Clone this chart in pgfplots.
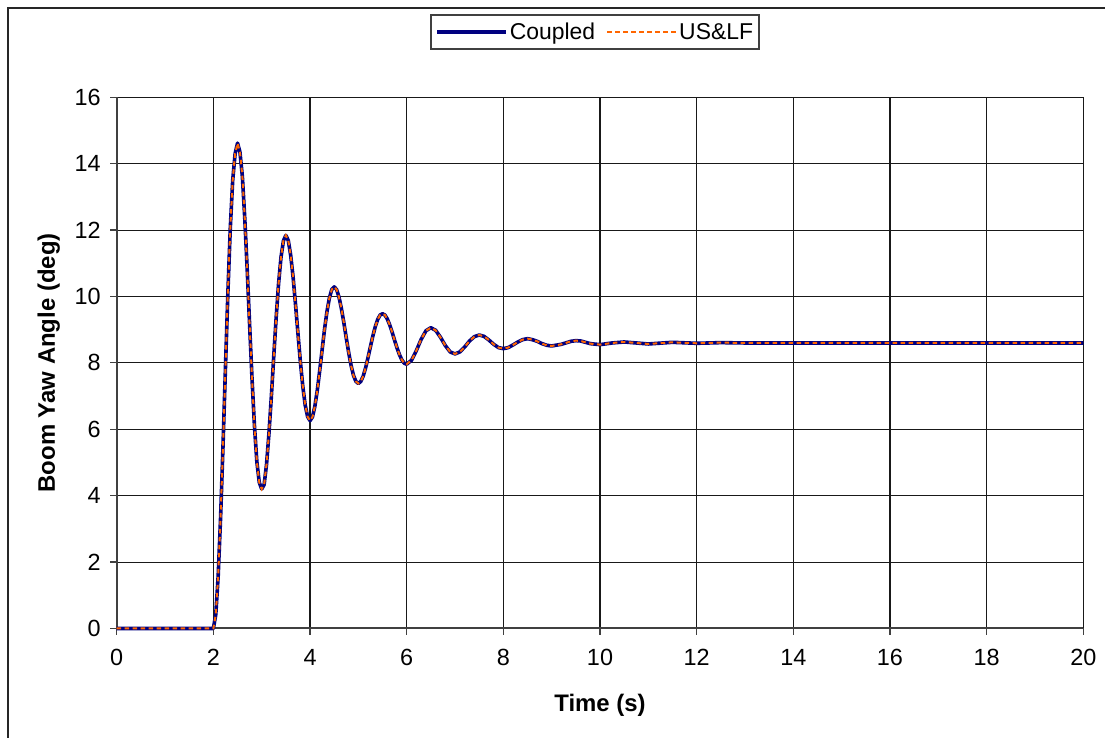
\documentclass[border=0pt]{standalone}
\usepackage{pgfplots}
\pgfplotsset{compat=1.18}
\usepackage{pgfplotstable}
\usepackage{fontspec}
\setmainfont{Liberation Sans}
\definecolor{navyline}{RGB}{0,0,128}
\definecolor{orangeline}{RGB}{255,102,0}

\pgfplotstableread{
t y
0.00 0.00
2.00 0.00
2.05 0.42
2.10 1.59
2.15 3.36
2.20 5.52
2.25 7.84
2.30 10.09
2.35 12.05
2.40 13.50
2.45 14.30
2.50 14.62
2.55 14.35
2.60 13.62
2.65 12.35
2.70 10.82
2.75 9.15
2.80 7.52
2.85 6.11
2.90 5.02
2.95 4.40
3.00 4.20
3.05 4.33
3.10 4.94
3.15 5.87
3.20 6.99
3.25 8.21
3.30 9.38
3.35 10.40
3.40 11.19
3.45 11.68
3.50 11.84
3.55 11.69
3.60 11.24
3.65 10.58
3.70 9.76
3.75 8.89
3.80 8.04
3.85 7.30
3.90 6.73
3.95 6.38
4.00 6.26
4.05 6.37
4.10 6.69
4.15 7.17
4.20 7.76
4.25 8.39
4.30 9.01
4.35 9.54
4.40 9.95
4.45 10.21
4.50 10.29
4.55 10.21
4.60 9.98
4.65 9.63
4.70 9.21
4.75 8.75
4.80 8.31
4.85 7.92
4.90 7.62
4.95 7.44
5.00 7.38
5.05 7.44
5.10 7.60
5.15 7.85
5.20 8.16
5.25 8.49
5.30 8.81
5.35 9.09
5.40 9.31
5.45 9.44
5.50 9.48
5.55 9.44
5.60 9.32
5.65 9.14
5.70 8.92
5.75 8.68
5.80 8.45
5.85 8.25
5.90 8.09
5.95 7.99
6.00 7.96
6.10 8.08
6.20 8.37
6.30 8.71
6.40 8.97
6.50 9.06
6.60 8.98
6.70 8.77
6.80 8.52
6.90 8.33
7.00 8.27
7.10 8.33
7.20 8.48
7.30 8.66
7.40 8.79
7.50 8.84
7.60 8.80
7.70 8.69
7.80 8.56
7.90 8.46
8.00 8.43
8.10 8.46
8.20 8.54
8.30 8.63
8.40 8.70
8.50 8.73
8.60 8.70
8.70 8.65
8.80 8.58
8.90 8.53
9.00 8.51
9.20 8.56
9.40 8.65
9.50 8.67
9.60 8.66
9.80 8.58
10.00 8.55
10.25 8.60
10.50 8.63
10.75 8.60
11.00 8.57
11.50 8.62
12.00 8.59
12.50 8.61
13.00 8.60
20.00 8.60
}\coupled

\pgfplotstableread{
t y
0.00 0.00
2.00 0.00
2.05 0.42
2.10 1.59
2.15 3.36
2.20 5.52
2.25 7.84
2.30 10.09
2.35 12.05
2.40 13.50
2.45 14.30
2.50 14.62
2.55 14.35
2.60 13.62
2.65 12.35
2.70 10.82
2.75 9.15
2.80 7.52
2.85 6.11
2.90 5.02
2.95 4.40
3.00 4.20
3.05 4.33
3.10 4.94
3.15 5.87
3.20 6.99
3.25 8.21
3.30 9.38
3.35 10.40
3.40 11.19
3.45 11.68
3.50 11.84
3.55 11.69
3.60 11.24
3.65 10.58
3.70 9.76
3.75 8.89
3.80 8.04
3.85 7.30
3.90 6.73
3.95 6.38
4.00 6.26
4.05 6.37
4.10 6.69
4.15 7.17
4.20 7.76
4.25 8.39
4.30 9.01
4.35 9.54
4.40 9.95
4.45 10.21
4.50 10.29
4.55 10.21
4.60 9.98
4.65 9.63
4.70 9.21
4.75 8.75
4.80 8.31
4.85 7.92
4.90 7.62
4.95 7.44
5.00 7.38
5.05 7.44
5.10 7.60
5.15 7.85
5.20 8.16
5.25 8.49
5.30 8.81
5.35 9.09
5.40 9.31
5.45 9.44
5.50 9.48
5.55 9.44
5.60 9.32
5.65 9.14
5.70 8.92
5.75 8.68
5.80 8.45
5.85 8.25
5.90 8.09
5.95 7.99
6.00 7.96
6.10 8.08
6.20 8.37
6.30 8.71
6.40 8.97
6.50 9.06
6.60 8.98
6.70 8.77
6.80 8.52
6.90 8.33
7.00 8.27
7.10 8.33
7.20 8.48
7.30 8.66
7.40 8.79
7.50 8.84
7.60 8.80
7.70 8.69
7.80 8.56
7.90 8.46
8.00 8.43
8.10 8.46
8.20 8.54
8.30 8.63
8.40 8.70
8.50 8.73
8.60 8.70
8.70 8.65
8.80 8.58
8.90 8.53
9.00 8.51
9.20 8.56
9.40 8.65
9.50 8.67
9.60 8.66
9.80 8.58
10.00 8.55
10.25 8.60
10.50 8.63
10.75 8.60
11.00 8.57
11.50 8.62
12.00 8.59
12.50 8.61
13.00 8.60
20.00 8.60
}\uslf

\begin{document}
\begin{tikzpicture}[x=1bp,y=1bp]
\useasboundingbox (0,0) rectangle (1105,738);
\fill[white] (0,0) rectangle (1105,738);
\draw[black!85, line width=2.5bp] (8,-2) -- (8,730) -- (1108,730);
\begin{axis}[
  at={(116.7bp,109.5bp)}, anchor=south west,
  scale only axis, width=966.6bp, height=531.2bp,
  xmin=0, xmax=20, ymin=0, ymax=16,
  xtick={0,2,...,20}, ytick={0,2,...,16},
  axis x line*=bottom, axis y line*=left,
  axis line style={black!75, line width=2bp, -},
  grid=major,
  major grid style={black!90, line width=1.1bp},
  tick align=outside, major tick length=6.5bp,
  tick style={black!75, line width=1.2bp},
  /pgf/number format/assume math mode=true,
  ticklabel style={font=\fontsize{23.5}{27}\selectfont},
  xticklabel style={yshift=-11bp},
  yticklabel style={xshift=-6bp},
  xlabel={\textbf{Time (s)}},
  ylabel={\textbf{Boom Yaw Angle (deg)}},
  xlabel style={at={(rel axis cs:0.5,0)}, anchor=base, yshift=-83.5bp, font=\fontsize{24}{28}\selectfont},
  ylabel style={at={(rel axis cs:0,0.5)}, anchor=base, yshift=61.7bp, font=\fontsize{24}{28}\selectfont},
  legend columns=2,
  legend image code/.code={\draw[#1] (0bp,0bp) -- (69bp,0bp);},
  legend style={at={(0.495,1.157)}, anchor=north, draw=black!75, line width=1.8bp,
    font=\fontsize{23}{27}\selectfont, inner xsep=4bp, inner ysep=6bp,
    /tikz/every even column/.append style={column sep=9bp}},
  clip=false,
]
\addplot[navyline, line width=3.6bp, line join=round] table[x=t,y=y] {\coupled};
\addlegendentry{Coupled}
\addplot[orangeline, line width=2bp, dash pattern=on 4.5bp off 3.5bp] table[x=t,y=y] {\uslf};
\addlegendentry{US\&LF}
\end{axis}
\end{tikzpicture}
\end{document}
